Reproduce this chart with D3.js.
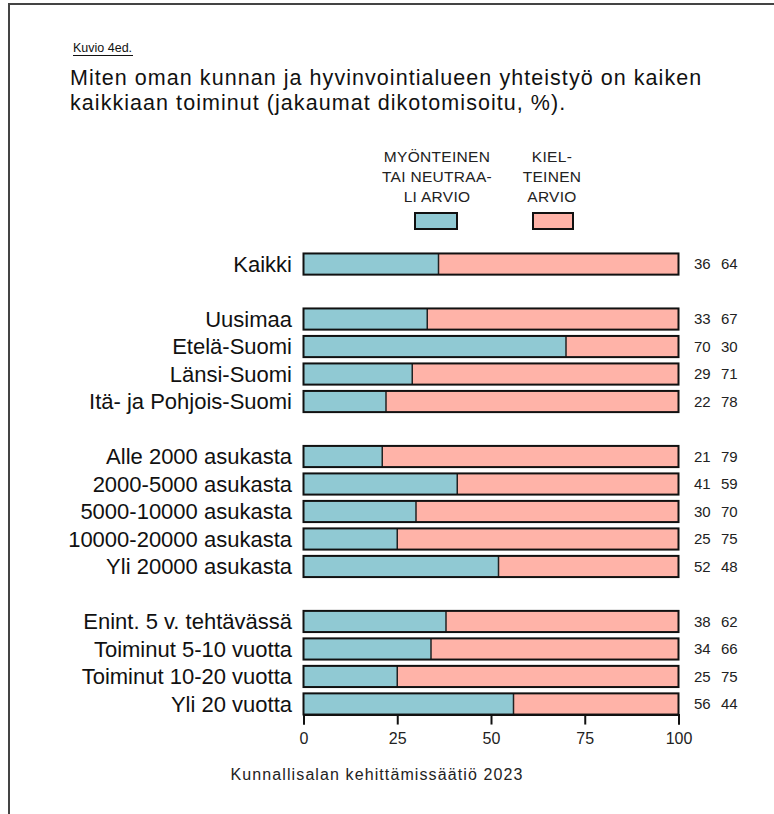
<!DOCTYPE html>
<html><head><meta charset="utf-8">
<script src="https://cdn.jsdelivr.net/npm/d3@7"></script>
<style>body{margin:0;background:#fff}svg{display:block}text{font-family:"Liberation Sans",Arial,sans-serif}</style>
</head><body>
<script>
const categories = ["Kaikki","","Uusimaa","Etelä-Suomi","Länsi-Suomi","Itä- ja Pohjois-Suomi","","Alle 2000 asukasta","2000-5000 asukasta","5000-10000 asukasta","10000-20000 asukasta","Yli 20000 asukasta","","Enint. 5 v. tehtävässä","Toiminut 5-10 vuotta","Toiminut 10-20 vuotta","Yli 20 vuotta"];
const positive = [36,null,33,70,29,22,null,21,41,30,25,52,null,38,34,25,56];
const negative = [64,null,67,30,71,78,null,79,59,70,75,48,null,62,66,75,44];
const seriesNames = [["MYÖNTEINEN","TAI NEUTRAA-","LI ARVIO"],["KIEL-","TEINEN","ARVIO"]];
const ticks = [0,25,50,75,100];
const colors = ["#90c9d3","#ffb3a8"];

const W=774,H=814;
const svg=d3.select("body").append("svg").attr("width",W).attr("height",H);
svg.append("line").attr("x1",9).attr("x2",9).attr("y1",4).attr("y2",H).attr("stroke","#444").attr("stroke-width",2);
svg.append("line").attr("x1",8).attr("x2",W).attr("y1",4).attr("y2",4).attr("stroke","#444").attr("stroke-width",2);

svg.append("text").attr("x",73).attr("y",52).attr("font-size",12.5).attr("fill","#111").text("Kuvio 4ed.");
svg.append("line").attr("x1",73).attr("x2",133).attr("y1",55.5).attr("y2",55.5).attr("stroke","#111").attr("stroke-width",1.2);
svg.append("text").attr("x",70).attr("y",85).attr("font-size",21.5).attr("letter-spacing",1.05).attr("fill","#111").text("Miten oman kunnan ja hyvinvointialueen yhteistyö on kaiken");
svg.append("text").attr("x",70).attr("y",110).attr("font-size",21.5).attr("letter-spacing",1.05).attr("fill","#111").text("kaikkiaan toiminut (jakaumat dikotomisoitu, %).");

const x=d3.scaleLinear().domain([0,100]).range([303.5,678.5]);
const y=d3.scaleBand().domain(d3.range(categories.length)).range([250.3,717.7]).paddingInner(0.23).paddingOuter(0.115);

// legend
const legX=[437,552];
const swX=[[415,457],[533,573]];
seriesNames.forEach((lines,i)=>{
  lines.forEach((l,j)=>svg.append("text").attr("x",legX[i]).attr("y",162+j*20).attr("text-anchor","middle").attr("font-size",15.5).attr("letter-spacing",0.3).attr("fill","#222").text(l));
  svg.append("rect").attr("x",swX[i][0]).attr("y",213).attr("width",swX[i][1]-swX[i][0]).attr("height",16).attr("fill",colors[i]).attr("stroke","#111").attr("stroke-width",2);
});

const rows=categories.map((c,i)=>({c,i,p:positive[i],n:negative[i]})).filter(d=>d.p!=null);
const g=svg.append("g");
rows.forEach(d=>{
  const y0=y(d.i),h=y.bandwidth();
  g.append("rect").attr("x",x(0)).attr("y",y0).attr("width",x(d.p)-x(0)).attr("height",h).attr("fill",colors[0]);
  g.append("rect").attr("x",x(d.p)).attr("y",y0).attr("width",x(100)-x(d.p)).attr("height",h).attr("fill",colors[1]);
  g.append("line").attr("x1",x(d.p)).attr("x2",x(d.p)).attr("y1",y0).attr("y2",y0+h).attr("stroke","#222").attr("stroke-width",1.5);
  g.append("rect").attr("x",x(0)).attr("y",y0).attr("width",x(100)-x(0)).attr("height",h).attr("fill","none").attr("stroke","#111").attr("stroke-width",2);
  g.append("text").attr("x",292).attr("y",y0+h/2).attr("dy","0.36em").attr("text-anchor","end").attr("font-size",22).attr("fill","#111").text(d.c);
  g.append("text").attr("x",694).attr("y",y0+h/2).attr("dy","0.36em").attr("font-size",15).attr("fill","#222").text(d.p);
  g.append("text").attr("x",721).attr("y",y0+h/2).attr("dy","0.36em").attr("font-size",15).attr("fill","#222").text(d.n);
});

const axY=y(16)+y.bandwidth();
const ax=svg.append("g").attr("transform",`translate(0,${axY})`).call(d3.axisBottom(x).tickValues(ticks).tickSize(10).tickPadding(8));
ax.select(".domain").attr("stroke","#111").attr("stroke-width",2);
ax.selectAll(".tick line").attr("stroke","#111").attr("stroke-width",2);
ax.selectAll(".tick text").attr("font-size",16).attr("fill","#222").style("font-family","'Liberation Sans',Arial,sans-serif");

svg.append("text").attr("x",377).attr("y",780).attr("text-anchor","middle").attr("font-size",16).attr("letter-spacing",1.1).attr("fill","#222").text("Kunnallisalan kehittämissäätiö 2023");
</script>
</body></html>
